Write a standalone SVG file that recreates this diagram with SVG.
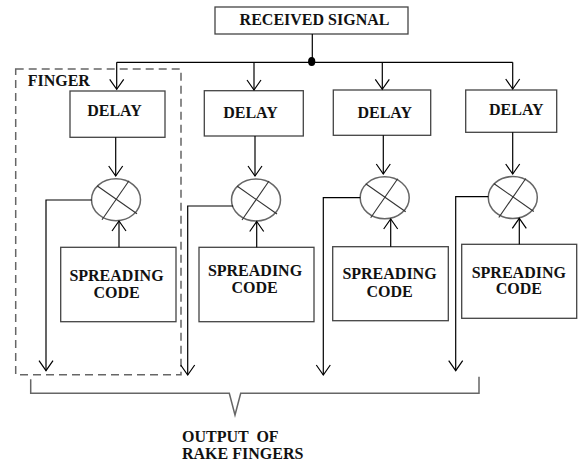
<svg xmlns="http://www.w3.org/2000/svg" xmlns:xlink="http://www.w3.org/1999/xlink" width="579" height="464" viewBox="0 0 579 464">
<style>
  .box { fill: #fff; stroke: #444; stroke-width: 1.3; }
  .lbl { font-family: "Liberation Serif", "Times New Roman", serif; font-weight: bold; font-size: 16px; fill: #111; }
  .mid { text-anchor: middle; }
  .wire { fill: none; stroke: #000; stroke-width: 1.2; }
  .mult { fill: #fff; stroke: #666; stroke-width: 1.5; }
  .cross { stroke: #333; stroke-width: 1.1; }
  .dash { fill: none; stroke: #666; stroke-width: 1.5; stroke-dasharray: 8 5; }
  .brace { fill: none; stroke: #666; stroke-width: 1.5; }
</style>
<defs>
  <marker id="arr" viewBox="-12 -10 14 20" refX="0" refY="0" markerWidth="14" markerHeight="20" markerUnits="userSpaceOnUse" orient="auto">
    <path d="M-10,-7 L0,0 L-10,7" fill="none" stroke="#000" stroke-width="1.2"/>
  </marker>
  <g id="multiplier">
    <ellipse cx="0" cy="0" rx="24.5" ry="21" class="mult"/>
    <line x1="-19" y1="-14" x2="21" y2="14" class="cross"/>
    <line x1="13" y1="-19" x2="-14" y2="20" class="cross"/>
  </g>
</defs>
<rect width="579" height="464" fill="#fff"/>

<g id="finger-frame">
  <rect x="15.7" y="69" width="165.3" height="305.7" class="dash"/>
  <text x="27.7" y="85.7" class="lbl">FINGER</text>
</g>

<g id="received-signal">
  <rect x="215" y="7" width="193" height="27" class="box"/>
  <text x="314.5" y="25" class="lbl mid">RECEIVED SIGNAL</text>
</g>

<g id="delay1"><rect x="70" y="91" width="95" height="46.3" class="box"/><text x="114.5" y="115.7" class="lbl mid">DELAY</text></g>
<g id="delay2"><rect x="204.3" y="90.7" width="99" height="45.3" class="box"/><text x="250.5" y="117.7" class="lbl mid">DELAY</text></g>
<g id="delay3"><rect x="333.3" y="90" width="97.4" height="45.3" class="box"/><text x="384.7" y="117.7" class="lbl mid">DELAY</text></g>
<g id="delay4"><rect x="465.7" y="90" width="91" height="42.3" class="box"/><text x="516.3" y="115" class="lbl mid">DELAY</text></g>

<g id="mult1"><use xlink:href="#multiplier" href="#multiplier" x="116" y="199.7"/></g>
<g id="mult2"><use xlink:href="#multiplier" href="#multiplier" x="256" y="200"/></g>
<g id="mult3"><use xlink:href="#multiplier" href="#multiplier" x="384.7" y="197.8"/></g>
<g id="mult4"><use xlink:href="#multiplier" href="#multiplier" x="512.8" y="197.5"/></g>

<g id="code1"><rect x="60.7" y="247.3" width="115.3" height="74.4" class="box"/><text x="116.5" y="281" class="lbl mid">SPREADING</text><text x="116.5" y="298.3" class="lbl mid">CODE</text></g>
<g id="code2"><rect x="199" y="247.3" width="115" height="74.4" class="box"/><text x="255" y="275.7" class="lbl mid">SPREADING</text><text x="254.5" y="293.3" class="lbl mid">CODE</text></g>
<g id="code3"><rect x="332.7" y="246.7" width="115.6" height="74" class="box"/><text x="389.5" y="279.3" class="lbl mid">SPREADING</text><text x="389.5" y="296.7" class="lbl mid">CODE</text></g>
<g id="code4"><rect x="461.7" y="244.3" width="115" height="74" class="box"/><text x="518.8" y="277.7" class="lbl mid">SPREADING</text><text x="518.8" y="294.3" class="lbl mid">CODE</text></g>

<g id="output-label">
  <text x="182" y="442.3" class="lbl" xml:space="preserve">OUTPUT  OF</text>
  <text x="182" y="459.3" class="lbl">RAKE FINGERS</text>
</g>

<g id="connectors">
  <path d="M312.3,34 V61.5" class="wire"/>
  <path d="M116.7,62.3 H512.7" class="wire"/>
  <ellipse cx="311.7" cy="61.5" rx="3.6" ry="4.5" fill="#000"/>
  <path d="M116.7,62.3 V89.3" class="wire" marker-end="url(#arr)"/>
  <path d="M254,62.3 V90" class="wire" marker-end="url(#arr)"/>
  <path d="M382.3,62.3 V89.3" class="wire" marker-end="url(#arr)"/>
  <path d="M512.7,62.3 V89" class="wire" marker-end="url(#arr)"/>

  <path d="M115.7,137.3 V176" class="wire" marker-end="url(#arr)"/>
  <path d="M255,136 V176" class="wire" marker-end="url(#arr)"/>
  <path d="M383.3,135.3 V174" class="wire" marker-end="url(#arr)"/>
  <path d="M512.7,132.3 V174" class="wire" marker-end="url(#arr)"/>

  <path d="M119,247.3 V221" class="wire" marker-end="url(#arr)"/>
  <path d="M256.7,247.3 V221.5" class="wire" marker-end="url(#arr)"/>
  <path d="M390.7,246.7 V219" class="wire" marker-end="url(#arr)"/>
  <path d="M519.3,244.3 V218.3" class="wire" marker-end="url(#arr)"/>

  <path d="M91.7,200 H46 V370.7" class="wire" marker-end="url(#arr)"/>
  <path d="M233,206 H187.7 V375" class="wire" marker-end="url(#arr)"/>
  <path d="M360.2,197.7 H323.3 V375" class="wire" marker-end="url(#arr)"/>
  <path d="M488.3,196.7 H455.7 V370.7" class="wire" marker-end="url(#arr)"/>

  <path d="M30.7,379.3 V393.3 H229.3 L235,415 L240.7,393.3 H479 V376.7" class="brace"/>
</g>
</svg>
